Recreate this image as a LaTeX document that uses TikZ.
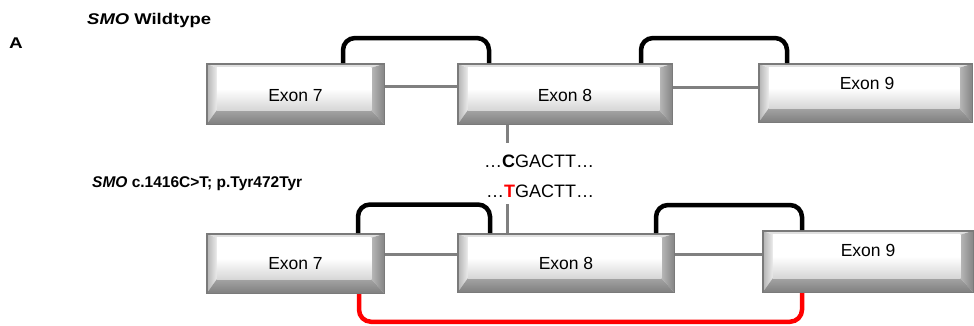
\documentclass[tikz,border=0pt]{standalone}
\usepackage{graphicx}
\usepackage{fontspec}
\setmainfont{Liberation Sans}
\usetikzlibrary{calc}
\definecolor{conngray}{HTML}{808080}
\definecolor{bordergray}{HTML}{7A7A7A}
\newcommand\bevelpic{%
 \coordinate (qa) at (path picture bounding box.north west);
 \coordinate (qb) at (path picture bounding box.north east);
 \coordinate (qc) at (path picture bounding box.south east);
 \coordinate (qd) at (path picture bounding box.south west);
 \coordinate (ra) at ($(qa)+(10pt,-4pt)$);
 \coordinate (rb) at ($(qb)+(-13pt,-4pt)$);
 \coordinate (rc) at ($(qc)+(-13pt,14pt)$);
 \coordinate (rd) at ($(qd)+(10pt,14pt)$);
 \fill[black!12] (qa)--(qb)--(rb)--(ra)--cycle;
 \shade[left color=black!30,right color=black!8] (qa)--(ra)--(rd)--(qd)--cycle;
 \shade[left color=black!28,right color=black!48] (qb)--(qc)--(rc)--(rb)--cycle;
 \shade[top color=black!36,bottom color=black!50] (qd)--(rd)--(rc)--(qc)--cycle;
 \shade[top color=white,bottom color=black!16,middle color=white] (ra)--(rb)--(rc)--(rd)--cycle;
}
\tikzset{
 exonbox/.style={rectangle, draw=bordergray, line width=1.5pt, inner sep=0pt, path picture={\bevelpic}},
 exonlabel/.style={font=\fontsize{17.5}{20}\selectfont, inner sep=0pt},
 intron/.style={draw=conngray, line width=3pt},
 splice/.style={draw=black, line width=4.5pt, rounded corners=12pt},
 altsplice/.style={draw=red, line width=4.5pt, rounded corners=12pt},
 title/.style={font=\fontsize{15.5}{18}\selectfont\bfseries, anchor=base west, inner sep=0pt},
 seq/.style={font=\fontsize{18}{20}\selectfont, inner sep=0pt},
}
\begin{document}
\begin{tikzpicture}[x=1pt,y=-1pt]
\useasboundingbox (0,0) rectangle (974,325);
% titles
\node[title] (panel) at (9,48) {\scalebox{1.22}[1]{A}};
\node[title] (wttitle) at (87,24) {\scalebox{1.19}[1]{\textit{SMO} Wildtype}};
\node[title] (mttitle) at (92,187) {\textit{SMO} c.1416C>T; p.Tyr472Tyr};
% wildtype exons
\node[exonbox, minimum width=177.5pt, minimum height=60.5pt] (e7) at (295.5,94) {};
\node[exonbox, minimum width=214.5pt, minimum height=60.5pt] (e8) at (565,94) {};
\node[exonbox, minimum width=213.5pt, minimum height=58.5pt] (e9) at (865.5,93) {};
\node[exonlabel] (t7) at (295.5,95.5) {Exon 7};
\node[exonlabel] (t8) at (565,95.5) {Exon 8};
\node[exonlabel] (t9) at (867,83) {Exon 9};
% mutant exons
\node[exonbox, minimum width=177.5pt, minimum height=59.5pt] (f7) at (295.5,263.5) {};
\node[exonbox, minimum width=216.5pt, minimum height=58.5pt] (f8) at (566,263) {};
\node[exonbox, minimum width=210.5pt, minimum height=61.5pt] (f9) at (868,261.5) {};
\node[exonlabel] (u7) at (295.5,263.5) {Exon 7};
\node[exonlabel] (u8) at (566,263.5) {Exon 8};
\node[exonlabel] (u9) at (868,250) {Exon 9};
% introns
\draw[intron] ([yshift=8pt]e7.east) -- ([yshift=8pt]e7.east -| e8.west);
\draw[intron] ([yshift=7pt]e8.east) -- ([yshift=7pt]e8.east -| e9.west);
\draw[intron] ([yshift=9.5pt]f7.east) -- ([yshift=9.5pt]f7.east -| f8.west);
\draw[intron] ([yshift=9pt]f8.east) -- ([yshift=9pt]f8.east -| f9.west);
% splicing, wildtype
\draw[splice] ([xshift=-42pt]e7.north east) -- ([xshift=-42pt,yshift=25pt]e7.north east) -| ([xshift=32pt]e8.north west);
\draw[splice] ([xshift=-32pt]e8.north east) -- ([xshift=-32pt,yshift=25pt]e8.north east) -| ([xshift=29pt]e9.north west);
% splicing, mutant
\draw[splice] ([xshift=-27pt]f7.north east) -- ([xshift=-27pt,yshift=28.5pt]f7.north east) -| ([xshift=33pt]f8.north west);
\draw[splice] ([xshift=-19pt]f8.north east) -- ([xshift=-19pt,yshift=28pt]f8.north east) -| ([xshift=40pt]f9.north west);
\draw[altsplice] ([xshift=-26pt]f7.south east) -- ([xshift=-26pt,yshift=-27.75pt]f7.south east) -| ([xshift=40pt]f9.south west);
% mutation site
\coordinate (m1) at (507,143);
\coordinate (m2) at (507,204);
\draw[intron] (e8.south -| m1) -- (m1);
\draw[intron] (m2) -- (m2 |- f8.north);
\node[seq] (wtseq) at (539,161) {…\textbf{C}GACTT…};
\node[seq] (mtseq) at (540,191) {…\textbf{\color{red}T}GACTT…};
\end{tikzpicture}
\end{document}
